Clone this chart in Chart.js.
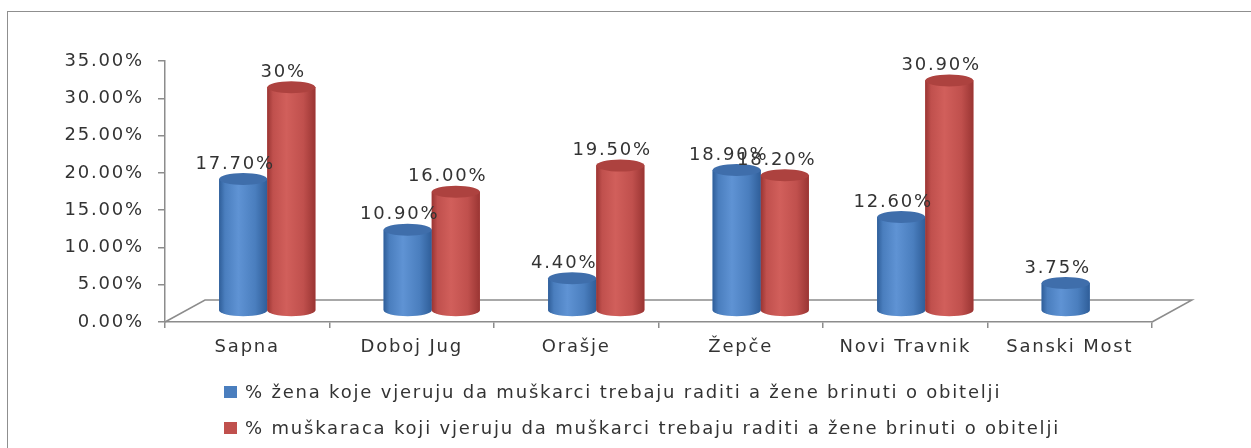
<!DOCTYPE html>
<html>
<head>
<meta charset="utf-8">
<script src="https://cdn.jsdelivr.net/npm/chart.js@4.4.1/dist/chart.umd.min.js"></script>
<style>
body { margin: 0; background: #fff; }
#wrap { position: relative; width: 1251px; height: 448px; overflow: hidden; }
#frame { position: absolute; left: 7px; top: 11px; width: 1300px; height: 500px; border: 1px solid #8f8f8f; }
canvas { position: absolute; left: 0; top: 0; }
</style>
</head>
<body>
<div id="wrap">
  <div id="frame"></div>
  <canvas id="myChart" width="1251" height="448"></canvas>
</div>
<script>
// data
const categories = ["Sapna", "Doboj Jug", "Orašje", "Žepče", "Novi Travnik", "Sanski Most"]
const womenValues = [17.7, 10.9, 4.4, 18.9, 12.6, 3.75]
const menValues = [30, 16.0, 19.5, 18.2, 30.9, null]
const womenLabels = ["17.70%", "10.90%", "4.40%", "18.90%", "12.60%", "3.75%"]
const menLabels = ["30%", "16.00%", "19.50%", "18.20%", "30.90%", ""]
const seriesNames = [
    "% žena koje vjeruju da muškarci trebaju raditi a žene brinuti o obitelji",
    "% muškaraca koji vjeruju da muškarci trebaju raditi a žene brinuti o obitelji"
]
const yTicks = [0, 5, 10, 15, 20, 25, 30, 35]

const FONT = '18px "DejaVu Sans"'
const TEXT = "#333333"
const AXIS = "#8c8c8c"
// 3d floor depth and bar offset (half depth)
const depthX = 40, depthY = -22
const barDX = 20, barDY = -11

const colors = [
    { base: "#4a7ebe", edge: "#2f5e99", light: "#5f93d4", cap: "#3f6eab" },
    { base: "#c0504d", edge: "#9a3533", light: "#d15f5b", cap: "#ad423f" }
]

function spacing(chart) {
    chart.ctx.letterSpacing = "1.8px"
}

const look3d = {
    id: "look3d",
    beforeUpdate: spacing,
    beforeDraw: spacing,
    beforeDatasetsDraw(chart) {
        const ctx = chart.ctx
        const a = chart.chartArea
        // floor
        ctx.save()
        ctx.strokeStyle = AXIS
        ctx.lineWidth = 1.5
        ctx.beginPath()
        ctx.moveTo(a.left, a.bottom)
        ctx.lineTo(a.left + depthX, a.bottom + depthY)
        ctx.lineTo(a.right + depthX, a.bottom + depthY)
        ctx.lineTo(a.right, a.bottom)
        ctx.stroke()
        ctx.restore()
        ctx.save()
        ctx.translate(barDX, barDY)
    },
    afterDatasetsDraw(chart) {
        const ctx = chart.ctx
        chart.data.datasets.forEach((ds, di) => {
            const meta = chart.getDatasetMeta(di)
            const c = colors[di]
            meta.data.forEach((bar, i) => {
                if (ds.data[i] == null) return
                const p = bar.getProps(["x", "y", "base", "width"], true)
                const rx = p.width / 2, ry = 6
                const left = p.x - rx, right = p.x + rx
                const g = ctx.createLinearGradient(left, 0, right, 0)
                g.addColorStop(0, c.edge)
                g.addColorStop(0.12, c.base)
                g.addColorStop(0.4, c.light)
                g.addColorStop(0.75, c.base)
                g.addColorStop(1, c.edge)
                ctx.fillStyle = g
                ctx.beginPath()
                ctx.moveTo(left, p.y)
                ctx.lineTo(left, p.base)
                ctx.ellipse(p.x, p.base, rx, ry, 0, Math.PI, 0, true)
                ctx.lineTo(right, p.y)
                ctx.closePath()
                ctx.fill()
                ctx.fillStyle = c.cap
                ctx.beginPath()
                ctx.ellipse(p.x, p.y, rx, ry, 0, 0, Math.PI * 2)
                ctx.fill()
            })
        })
        // value labels
        ctx.font = FONT
        ctx.fillStyle = TEXT
        ctx.textAlign = "center"
        ctx.textBaseline = "middle"
        const lbls = [womenLabels, menLabels]
        chart.data.datasets.forEach((ds, di) => {
            chart.getDatasetMeta(di).data.forEach((bar, i) => {
                if (ds.data[i] == null) return
                ctx.fillText(lbls[di][i], bar.x - 8, bar.y - 15)
            })
        })
        ctx.restore()
    },
    afterDraw(chart) {
        const ctx = chart.ctx
        ctx.save()
        ctx.font = FONT
        ctx.textAlign = "left"
        ctx.textBaseline = "alphabetic"
        const rows = [398, 434]
        chart.data.datasets.forEach((ds, di) => {
            ctx.fillStyle = colors[di].base
            ctx.fillRect(224, rows[di] - 12, 13, 12)
            ctx.fillStyle = TEXT
            ctx.fillText(ds.label, 245, rows[di])
        })
        ctx.restore()
    }
}

const ctx = document.getElementById("myChart")
const myChart = new Chart(ctx, {
    type: "bar",
    data: {
        labels: categories,
        datasets: [{
            label: seriesNames[0],
            data: womenValues,
            backgroundColor: colors[0].base,
            clip: false
        }, {
            label: seriesNames[1],
            data: menValues,
            backgroundColor: colors[1].base,
            clip: false
        }]
    },
    options: {
        responsive: false,
        animation: false,
        categoryPercentage: 0.585,
        barPercentage: 1,
        layout: { padding: { left: 0, right: 99, top: 61, bottom: 0 } },
        plugins: {
            legend: { display: false },
            tooltip: { enabled: false }
        },
        scales: {
            x: {
                afterFit: (s) => { s.height = 126 },
                border: { color: AXIS, width: 1.5 },
                grid: { drawOnChartArea: false, offset: true, tickLength: 6, color: AXIS, lineWidth: 1.5 },
                ticks: { font: { family: "DejaVu Sans", size: 18 }, color: TEXT, padding: 9, maxRotation: 0, autoSkip: false }
            },
            y: {
                min: 0,
                max: 35,
                afterFit: (s) => { s.width = 165 },
                afterBuildTicks: (s) => { s.ticks = yTicks.map(v => ({ value: v })) },
                border: { color: AXIS, width: 1.5 },
                grid: { drawOnChartArea: false, tickLength: 7, color: AXIS, lineWidth: 1.5 },
                ticks: {
                    font: { family: "DejaVu Sans", size: 18 },
                    color: TEXT,
                    padding: 14,
                    callback: (v) => v.toFixed(2) + "%"
                }
            }
        }
    },
    plugins: [look3d]
})
</script>
</body>
</html>
